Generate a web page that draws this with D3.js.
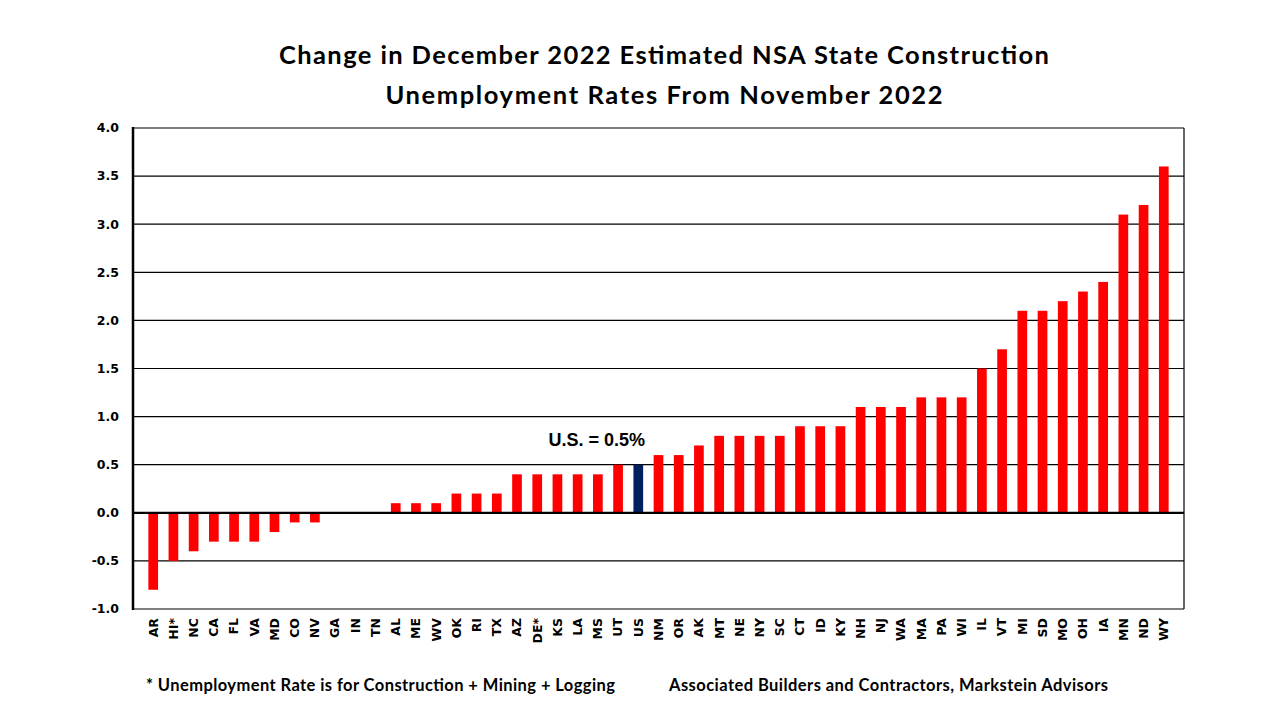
<!DOCTYPE html>
<html><head><meta charset="utf-8">
<script src="https://cdn.jsdelivr.net/npm/d3@7"></script>
<style>body{margin:0;background:#fff}svg{display:block}</style>
</head><body>
<svg id="c" width="1280" height="720"></svg>
<script>
const states = ["AR","HI*","NC","CA","FL","VA","MD","CO","NV","GA","IN","TN","AL","ME","WV","OK","RI","TX","AZ","DE*","KS","LA","MS","UT","US","NM","OR","AK","MT","NE","NY","SC","CT","ID","KY","NH","NJ","WA","MA","PA","WI","IL","VT","MI","SD","MO","OH","IA","MN","ND","WY"];
const changes = [-0.8,-0.5,-0.4,-0.3,-0.3,-0.3,-0.2,-0.1,-0.1,0,0,0,0.1,0.1,0.1,0.2,0.2,0.2,0.4,0.4,0.4,0.4,0.4,0.5,0.5,0.6,0.6,0.7,0.8,0.8,0.8,0.8,0.9,0.9,0.9,1.1,1.1,1.1,1.2,1.2,1.2,1.5,1.7,2.1,2.1,2.2,2.3,2.4,3.1,3.2,3.6];
const yTicks = [-1.0,-0.5,0.0,0.5,1.0,1.5,2.0,2.5,3.0,3.5,4.0];
const titleLines = ["Change in December 2022 Estimated NSA State Construction","Unemployment Rates From November 2022"];
const footLeft = "* Unemployment Rate is for Construction + Mining + Logging";
const footRight = "Associated Builders and Contractors, Markstein Advisors";
const usLabel = "U.S. = 0.5%";

const svg = d3.select("#c");
const L=133, R=1184, T=128, B=609;
const x = d3.scaleBand().domain(states).range([L,R]).paddingInner(0.52).paddingOuter(0.76);
const y = d3.scaleLinear().domain([-1,4]).range([B,T]);

// gridlines
svg.append("g").selectAll("line").data(yTicks).join("line")
  .attr("x1",L).attr("x2",R).attr("y1",d=>y(d)).attr("y2",d=>y(d))
  .attr("stroke","#000").attr("stroke-width",1.2);
svg.append("line").attr("x1",R).attr("x2",R).attr("y1",T).attr("y2",B).attr("stroke","#000").attr("stroke-width",1.2);

// bars
svg.append("g").selectAll("rect").data(states).join("rect")
  .attr("x",d=>x(d)).attr("width",x.bandwidth())
  .attr("y",(d,i)=>y(Math.max(0,changes[i])))
  .attr("height",(d,i)=>Math.abs(y(changes[i])-y(0)))
  .attr("fill",d=>d==="US"?"#002060":"#ff0000");

// zero line and left axis
svg.append("line").attr("x1",L).attr("x2",R).attr("y1",y(0)).attr("y2",y(0)).attr("stroke","#000").attr("stroke-width",2.2);
svg.append("line").attr("x1",L).attr("x2",L).attr("y1",T-1).attr("y2",B+1).attr("stroke","#000").attr("stroke-width",2.5);

// y tick labels
svg.append("g").selectAll("text").data(yTicks).join("text")
  .attr("x",119).attr("y",d=>y(d)).attr("dy","0.35em").attr("text-anchor","end")
  .attr("font-family","DejaVu Sans").attr("font-weight","bold").attr("font-size",12.5)
  .text(d=>d.toFixed(1));

// category labels
svg.append("g").selectAll("text").data(states).join("text")
  .attr("transform",d=>`translate(${x(d)+x.bandwidth()/2},618) rotate(-90)`)
  .attr("dy","0.35em").attr("text-anchor","end")
  .attr("font-family","DejaVu Sans").attr("font-weight","bold").attr("font-size",12.5)
  .text(d=>d);

// US label
svg.append("text").attr("x",x("US")+x.bandwidth()/2-41.5).attr("y",446).attr("text-anchor","middle")
  .attr("font-family","Liberation Sans, Arial").attr("font-weight","bold").attr("font-size",18)
  .text(usLabel);

// title
const tl = [770, 557];
svg.append("g").selectAll("text").data(titleLines).join("text")
  .attr("x",664).attr("y",(d,i)=>64+i*40).attr("text-anchor","middle")
  .attr("font-family","Lato").attr("font-weight","bold").attr("font-size",25.5)
  .attr("textLength",(d,i)=>tl[i]).attr("lengthAdjust","spacing")
  .text(d=>d);

// footer
svg.append("text").attr("x",146).attr("y",691)
  .attr("font-family","Lato").attr("font-weight","bold").attr("font-size",16.5)
  .attr("textLength",469).attr("lengthAdjust","spacing").text(footLeft);
svg.append("text").attr("x",669).attr("y",691)
  .attr("font-family","Lato").attr("font-weight","bold").attr("font-size",16.5)
  .attr("textLength",439).attr("lengthAdjust","spacing").text(footRight);
</script>
</body></html>
